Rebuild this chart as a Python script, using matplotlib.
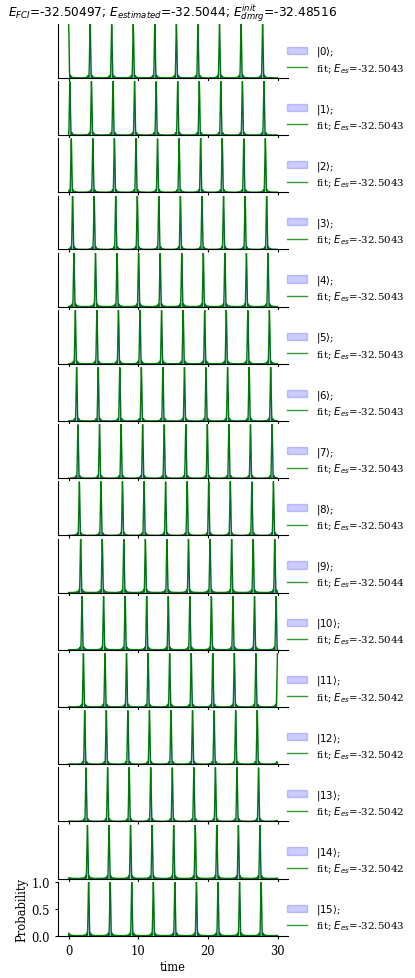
import numpy as np
import matplotlib
matplotlib.use("Agg")
import matplotlib.pyplot as plt
from matplotlib.patches import Patch
from matplotlib.lines import Line2D

plt.rcParams["font.family"] = "serif"
plt.rcParams["font.serif"] = ["DejaVu Serif"]

# energies shown in the title
e_fci = -32.50497
e_estimated = -32.5044
e_dmrg_init = -32.48516

# one panel per basis state |k>
states = list(range(16))
fit_energy = [-32.5043, -32.5043, -32.5043, -32.5043, -32.5043, -32.5043,
              -32.5043, -32.5043, -32.5043, -32.5044, -32.5044, -32.5042,
              -32.5042, -32.5042, -32.5042, -32.5043]

# peak positions (time of first peak per panel, spacing)
first_peak = [0.00, 0.19, 0.39, 0.58, 0.77, 0.97, 1.16, 1.35,
              1.55, 1.74, 1.93, 2.13, 2.32, 2.51, 2.71, 2.88]
period = 3.095
t_max = 30.0

time_data = np.linspace(0, t_max, 301)   # measured samples
time_fit = np.linspace(0, t_max, 1501)   # fitted curve
n = len(states)


def peak_shape(t, t0):
    # periodic Fejer-type peak (QPE probability of one outcome)
    x = np.pi * (t - t0) / period
    s = np.sin(x)
    out = np.ones_like(x)
    ok = np.abs(s) > 1e-9
    out[ok] = (np.sin(n * x[ok]) / (n * s[ok])) ** 2
    return out


fig, axes = plt.subplots(n, 1, figsize=(4.15, 9.79), dpi=100, sharex=True)
fig.subplots_adjust(left=0.14, right=0.694, top=0.9745, bottom=0.0432, hspace=0.06)

for k, ax in zip(states, axes):
    ax.plot(time_fit, peak_shape(time_fit, first_peak[k]),
            color="green", lw=1)
    ax.fill_between(time_data, peak_shape(time_data, first_peak[k]),
                    color="blue", alpha=0.2, lw=0, zorder=3)
    ax.set_ylim(0, 1.0)
    ax.spines["top"].set_visible(False)
    ax.spines["right"].set_visible(False)
    ax.tick_params(labelsize=8.3, length=2.5)
    if k < n - 1:
        ax.tick_params(left=False, labelleft=False, labelbottom=False)
    ax.legend(handles=[Patch(facecolor="blue", edgecolor="blue", alpha=0.2),
                       Line2D([], [], color="green", lw=1, alpha=0.8)],
              labels=[rf"$|{k}\rangle$;", rf"fit; $E_{{es}}$={fit_energy[k]:.4f}"],
              loc="lower left", bbox_to_anchor=(0.955, -0.11),
              frameon=False, fontsize=7.4, labelspacing=0.25)

axes[-1].set_xticks([0, 10, 20, 30])
axes[-1].set_yticks([0.0, 0.5, 1.0])
axes[-1].set_xlabel("time", fontsize=8.3, labelpad=2)
axes[-1].set_ylabel("Probability", fontsize=8.3, labelpad=2)

axes[0].set_title(rf"$E_{{FCI}}$={e_fci}; $E_{{estimated}}$={e_estimated}; "
                  rf"$E_{{dmrg}}^{{init}}$={e_dmrg_init}",
                  fontsize=8.7, family="DejaVu Sans")

fig.savefig("out.png", dpi=100)
